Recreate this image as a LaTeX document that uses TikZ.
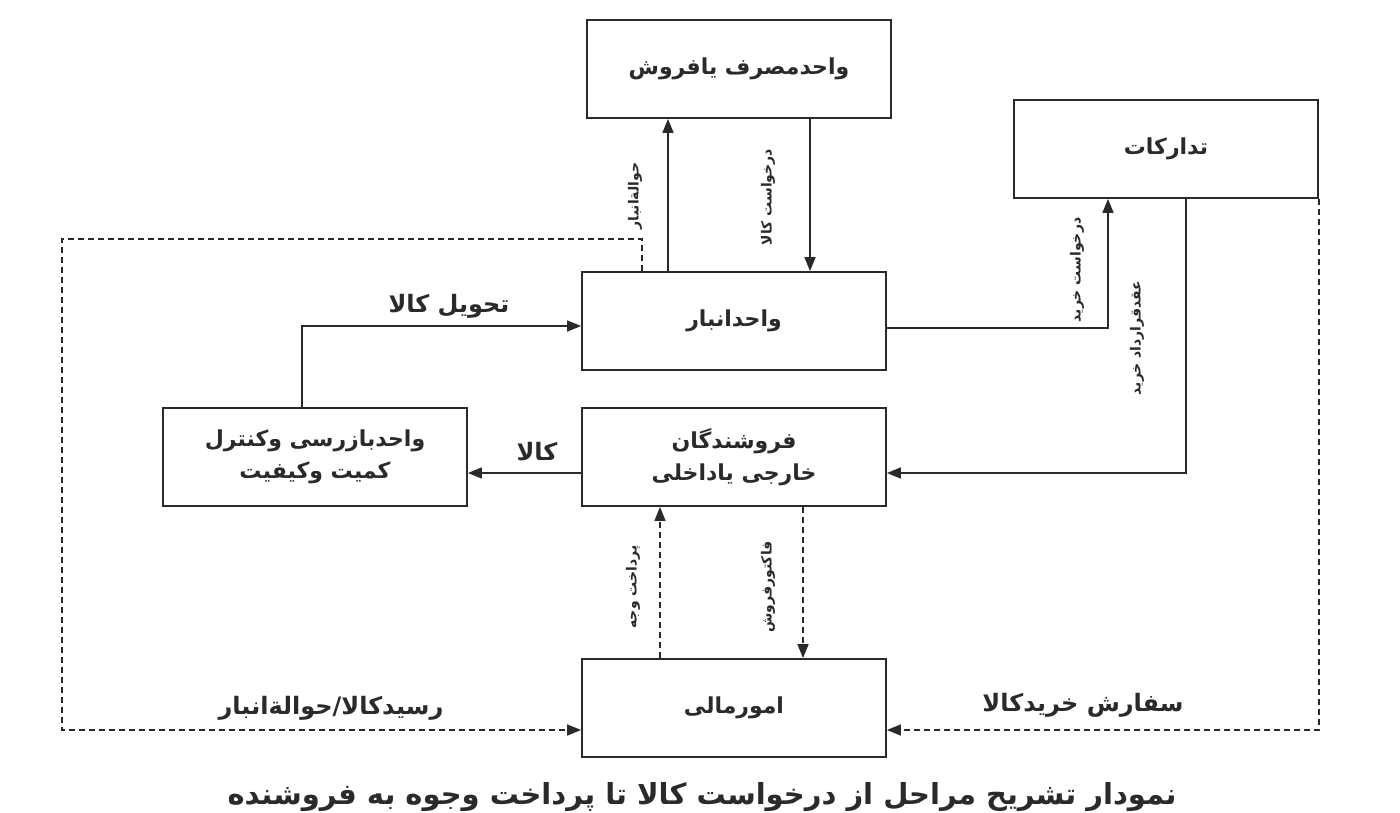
\documentclass[tikz,border=0pt]{standalone}
\usepackage{fontspec}
\usetikzlibrary{arrows.meta}
\TeXXeTstate=1
\newfontfamily\arabicfont[Script=Arabic]{DejaVu Sans}
\definecolor{ink}{HTML}{2A2A2A}
\begin{document}
\begin{tikzpicture}[x=1pt,y=-1pt,
  box/.style={draw=ink,line width=1.8pt,inner sep=0pt,minimum width=304pt,minimum height=98pt,
    align=center,text=ink,font=\arabicfont\bfseries\fontsize{22}{32}\selectfont},
  flow/.style={draw=ink,line width=1.6pt,-{Triangle[length=14pt,width=11pt]}},
  dflow/.style={flow,dash pattern=on 6pt off 4pt},
  lab/.style={inner sep=0pt,text=ink,font=\arabicfont\bfseries\fontsize{24}{26}\selectfont},
  vlab/.style={inner sep=0pt,text=ink,rotate=90,font=\arabicfont\bfseries\fontsize{14}{17}\selectfont}]
\useasboundingbox (0,0) rectangle (1400,812);
% boxes
\node[box] (masraf) at (739,69) {\beginR واحدمصرف یافروش\endR};
\node[box] (tadarokat) at (1166,149) {\beginR تدارکات\endR};
\node[box] (anbar) at (734,321) {\beginR واحدانبار\endR};
\node[box] (bazrasi) at (315,457) {\beginR واحدبازرسی وکنترل\endR\\\beginR کمیت وکیفیت\endR};
\node[box] (forosh) at (734,457) {\beginR فروشندگان\endR\\\beginR خارجی یاداخلی\endR};
\node[box] (mali) at (734,708) {\beginR امورمالی\endR};
% helper coordinates
\coordinate (xA) at (668,0);
\coordinate (xB) at (810,0);
\coordinate (d1) at (642,239);
\coordinate (d2) at (62,239);
\coordinate (yR) at (0,730);
\coordinate (xE) at (302,0);
\coordinate (yT) at (0,326);
\coordinate (yK) at (0,473);
\coordinate (yH) at (0,328);
\coordinate (xH) at (1108,0);
\coordinate (xQ) at (1186,0);
\coordinate (xP) at (660,0);
\coordinate (xF) at (803,0);
% connectors
\draw[flow] (anbar.north -| xA) -- (masraf.south -| xA);
\draw[flow] (masraf.south -| xB) -- (anbar.north -| xB);
\draw[dflow] (anbar.north -| d1) -- (d1) -- (d2) |- (mali.west |- yR);
\draw[flow] (bazrasi.north -| xE) |- (anbar.west |- yT);
\draw[flow] (forosh.west |- yK) -- (bazrasi.east |- yK);
\draw[flow] (anbar.east |- yH) -| (tadarokat.south -| xH);
\draw[flow] (tadarokat.south -| xQ) |- (forosh.east |- yK);
\draw[dflow] (tadarokat.south east) |- (mali.east |- yR);
\draw[dflow] (mali.north -| xP) -- (forosh.south -| xP);
\draw[dflow] (forosh.south -| xF) -- (mali.north -| xF);
% labels
\node[vlab] (lhav) at (635,196) {\beginR حوالةانبار\endR};
\node[vlab] (ldkala) at (768,197) {\beginR درخواست کالا\endR};
\node[vlab] (ldkharid) at (1077,270) {\beginR درخواست خرید\endR};
\node[vlab] (laqd) at (1137,338) {\beginR عقدقرارداد خرید\endR};
\node[vlab] (lpar) at (633,587) {\beginR پرداخت وجه\endR};
\node[vlab] (lfac) at (768,587) {\beginR فاکتورفروش\endR};
\node[lab] (ltahvil) at (449,306) {\beginR تحویل کالا\endR};
\node[lab] (lkala) at (537,452) {\beginR کالا\endR};
\node[lab] (lrasid) at (331,708) {\beginR رسیدکالا/حوالةانبار\endR};
\node[lab] (lsef) at (1083,705) {\beginR سفارش خریدکالا\endR};
\node[inner sep=0pt,text=ink,font=\arabicfont\bfseries\fontsize{29}{32}\selectfont] (cap) at (702,797)
  {\beginR نمودار تشریح مراحل از درخواست کالا تا پرداخت وجوه به فروشنده\endR};
\end{tikzpicture}
\end{document}
